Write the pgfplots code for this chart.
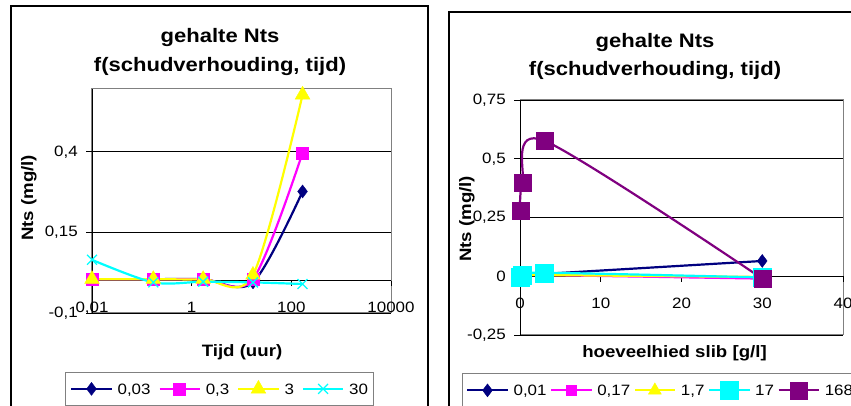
\documentclass[border=0pt]{standalone}
\usepackage{pgfplots}
\pgfplotsset{compat=1.18}
\usepackage{fontspec}
\setmainfont{Liberation Sans}[FakeStretch=1.13]
\definecolor{cnavy}{RGB}{0,0,128}
\definecolor{cmag}{RGB}{255,0,255}
\definecolor{cyel}{RGB}{255,255,0}
\definecolor{ccyan}{RGB}{0,255,255}
\definecolor{cpurp}{RGB}{128,0,128}
\definecolor{bordergray}{RGB}{128,128,128}
\newcommand{\tickfont}{\fontsize{15}{18}\selectfont}
\newcommand{\titlefont}{\fontsize{19.5}{23}\selectfont\bfseries}
\newcommand{\labfont}{\fontsize{16.5}{20}\selectfont\bfseries}
\pgfplotsset{
  chartbase/.style={
    scale only axis,
    clip=false,
    axis line style={bordergray, line width=1pt},
    tick label style={font=\tickfont},
    /pgf/number format/assume math mode=true,
    ymajorgrids,
    grid style={black, line width=0.8pt},
    major tick length=0pt,
    yticklabel style={anchor=east, inner sep=0pt, xshift=-14pt},
    xticklabel style={anchor=base, inner sep=0pt},
    every axis plot/.append style={line width=2.2pt, smooth},
    legend columns=-1,
    legend style={draw=bordergray, line width=0.8pt, font=\tickfont,
      inner xsep=5pt, inner ysep=8pt,
      nodes={inner sep=0pt, text height=11pt, text depth=3pt},
      /tikz/every odd column/.append style={column sep=5pt}},
    legend image code/.code={\draw[mark repeat=2, mark phase=2] plot coordinates {(0pt,1.5pt) (20pt,1.5pt) (40pt,1.5pt)};},
  },
}
\begin{document}
\begin{tikzpicture}[x=1pt,y=1pt]
\useasboundingbox (0,0) rectangle (851,406);
\fill[white] (0,0) rectangle (851,406);
\begin{scope}
\clip (0,0) rectangle (851,406);
\draw[line width=1.3pt] (11,-20) rectangle (428,400);
\draw[line width=1.3pt] (449,-20) rectangle (890,394);

% ---------------- left chart ----------------
\begin{axis}[chartbase, at={(92pt,93pt)}, anchor=south west,
  width=299pt, height=224pt,
  xmode=log, xmin=0.01, xmax=10000, ymin=-0.1, ymax=0.595,
  xtick={0.01,1,100,10000}, xticklabels={{0,01},1,100,10000},
  ytick={-0.1,0.15,0.4}, yticklabels={{-0,1},{0,15},{0,4}},
  legend style={at={(-0.0903,-0.2634)}, anchor=north west,
    /tikz/every even column/.append style={column sep=8pt}}]
  \draw[black, line width=0.9pt] (axis cs:0.01,0) -- (axis cs:10000,0);
  \draw[black, line width=0.9pt] (axis cs:0.01,-0.1) -- (axis cs:0.01,0.595);
  \draw[black, line width=0.8pt] (axis cs:0.01,-0.1) -- ++(-6pt,0pt);
  \draw[black, line width=0.8pt] (axis cs:0.01,0.15) -- ++(-6pt,0pt);
  \draw[black, line width=0.8pt] (axis cs:0.01,0.4) -- ++(-6pt,0pt);
  \draw[black, line width=0.8pt] (axis cs:1,0) -- ++(0pt,-5pt);
  \draw[black, line width=0.8pt] (axis cs:100,0) -- ++(0pt,-5pt);
  \draw[black, line width=0.8pt] (axis cs:10000,0) -- ++(0pt,-5pt);
  \addplot[cnavy, mark=diamond*, mark size=6.5pt, mark options={solid, line width=0.4pt}]
    coordinates {(0.01,0.005) (0.17,0.005) (1.7,0.005) (17,-0.005) (168,0.277)};
  \addlegendentry{0,03}
  \addplot[cmag, mark=square*, mark size=6pt, mark options={solid, line width=0.4pt}]
    coordinates {(0.01,0.005) (0.17,0.005) (1.7,0.005) (17,0.005) (168,0.397)};
  \addlegendentry{0,3}
  \addplot[cyel, mark=triangle*, mark size=8.5pt, mark options={solid, line width=0.4pt}]
    coordinates {(0.01,0.005) (0.17,0.005) (1.7,0.005) (17,0.018) (168,0.577)};
  \addlegendentry{3}
  \addplot[ccyan, mark=x, mark size=7pt, mark options={solid, line width=1.3pt}]
    coordinates {(0.01,0.065) (0.17,-0.005) (1.7,-0.003) (17,-0.005) (168,-0.01)};
  \addlegendentry{30}
\end{axis}

% ---------------- right chart ----------------
\begin{axis}[chartbase, at={(520pt,71pt)}, anchor=south west,
  width=323pt, height=235pt,
  xmin=0, xmax=40, ymin=-0.25, ymax=0.75,
  xtick={0,10,20,30,40},
  ytick={-0.25,0,0.25,0.5,0.75}, yticklabels={{-0,25},0,{0,25},{0,5},{0,75}},
  xticklabel style={yshift=26.7pt},
  legend style={at={(-0.1796,-0.1617)}, anchor=north west, inner xsep=4pt,
    /tikz/every even column/.append style={column sep=3.5pt}}]
  \draw[black, line width=0.9pt] (axis cs:0,0) -- (axis cs:40,0);
  \draw[black, line width=0.9pt] (axis cs:0,-0.25) -- (axis cs:0,0.75);
  \draw[black, line width=0.8pt] (axis cs:0,-0.25) -- ++(-6pt,0pt);
  \draw[black, line width=0.8pt] (axis cs:0,0) -- ++(-6pt,0pt);
  \draw[black, line width=0.8pt] (axis cs:0,0.25) -- ++(-6pt,0pt);
  \draw[black, line width=0.8pt] (axis cs:0,0.5) -- ++(-6pt,0pt);
  \draw[black, line width=0.8pt] (axis cs:0,0.75) -- ++(-6pt,0pt);
  \draw[black, line width=0.8pt] (axis cs:10,0) -- ++(0pt,-6pt);
  \draw[black, line width=0.8pt] (axis cs:20,0) -- ++(0pt,-6pt);
  \draw[black, line width=0.8pt] (axis cs:30,0) -- ++(0pt,-6pt);
  \draw[black, line width=0.8pt] (axis cs:40,0) -- ++(0pt,-6pt);
  \addplot[cnavy, mark=diamond*, mark size=6.5pt, mark options={solid, line width=0.4pt}]
    coordinates {(0.03,0.005) (0.3,0.005) (3,0.01) (30,0.065)};
  \addlegendentry{0,01}
  \addplot[cmag, mark=square*, mark size=5pt, mark options={solid, line width=0.4pt}]
    coordinates {(0.03,0.005) (0.3,0.005) (3,0.005) (30,-0.01)};
  \addlegendentry{0,17}
  \addplot[cyel, mark=triangle*, mark size=7.5pt, mark options={solid, line width=0.4pt}]
    coordinates {(0.03,0.005) (0.3,0.005) (3,0.005) (30,-0.003)};
  \addlegendentry{1,7}
  \addplot[ccyan, mark=square*, mark size=9pt, mark options={solid, line width=0.4pt}]
    coordinates {(0.03,-0.003) (0.3,0.005) (3,0.015) (30,-0.005)};
  \addlegendentry{17}
  \addplot[cpurp, mark=square*, mark size=8.5pt, mark options={solid, line width=0.4pt}]
    coordinates {(0.03,0.277) (0.3,0.397) (3,0.577) (30,-0.01)};
  \addlegendentry{168}
\end{axis}

% titles and axis labels
\node[anchor=base, font=\titlefont] at (220,363) {gehalte Nts};
\node[anchor=base, font=\titlefont] at (220,334) {f(schudverhouding, tijd)};
\node[anchor=base, font=\titlefont] at (655,358) {gehalte Nts};
\node[anchor=base, font=\titlefont] at (655,330) {f(schudverhouding, tijd)};
\node[anchor=base, font=\labfont] at (242,49) {Tijd (uur)};
\node[anchor=base, font=\labfont] at (674.5,48) {hoeveelhied slib [g/l]};
\node[anchor=base, rotate=90, font=\labfont] at (33,208) {Nts (mg/l)};
\node[anchor=base, rotate=90, font=\labfont] at (471,187) {Nts (mg/l)};
\end{scope}
\end{tikzpicture}
\end{document}
